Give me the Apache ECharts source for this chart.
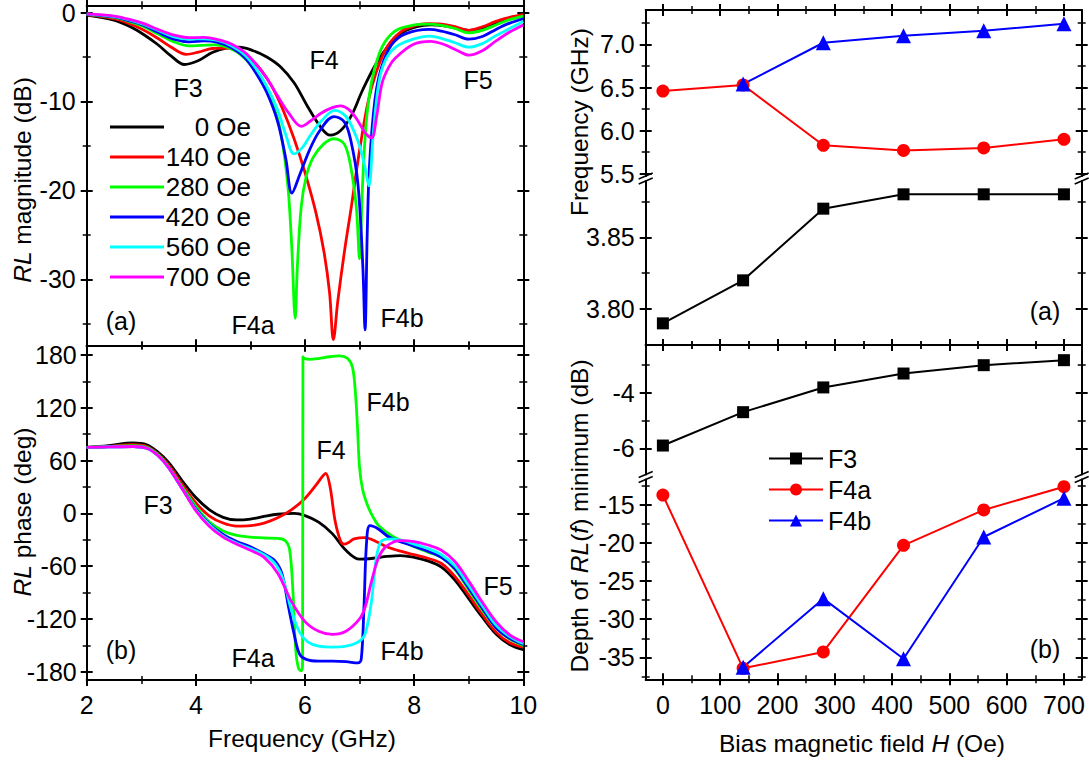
<!DOCTYPE html>
<html><head><meta charset="utf-8">
<script src="https://cdn.jsdelivr.net/npm/echarts@6.0.0/dist/echarts.min.js"></script>
<style>html,body{margin:0;padding:0;background:#fff}#c{width:1089px;height:762px}</style>
</head><body><div id="c"></div><script>
// ---------- data ----------
const fieldNames = ['0 Oe', '140 Oe', '280 Oe', '420 Oe', '560 Oe', '700 Oe'];
const magBlack = [[2,-0.3],[2.5,-0.85],[2.8,-1.6],[3.05,-2.5],[3.3,-3.6],[3.55,-4.9],[3.79,-5.85],[4.05,-5.4],[4.3,-4.5],[4.55,-4.0],[4.8,-3.9],[5.05,-4.3],[5.3,-5.0],[5.55,-6.1],[5.8,-7.9],[6.05,-10.6],[6.3,-13.0],[6.46,-13.8],[6.65,-13.3],[6.85,-11.6],[7.05,-8.8],[7.3,-5.8],[7.55,-3.6],[7.8,-2.2],[8.05,-1.6],[8.3,-1.4],[8.55,-1.5],[8.8,-1.8],[9.0,-2.0],[9.25,-1.75],[9.5,-1.15],[9.75,-0.65],[10,-0.35]];
const magRed = [[2,-0.25],[2.5,-0.7],[2.8,-1.3],[3.05,-2.0],[3.3,-2.9],[3.55,-3.9],[3.82,-4.7],[4.05,-4.45],[4.3,-4.05],[4.55,-4.0],[4.8,-4.4],[5.0,-5.2],[5.2,-6.5],[5.4,-8.4],[5.6,-11.0],[5.8,-14.2],[6.0,-18.0],[6.2,-22.5],[6.35,-27.0],[6.45,-31.5],[6.52,-36.8],[6.6,-32.5],[6.72,-27.0],[6.85,-21.8],[7.0,-15.5],[7.15,-10.2],[7.3,-6.8],[7.5,-3.9],[7.75,-2.2],[8.0,-1.5],[8.25,-1.25],[8.5,-1.3],[8.75,-1.6],[9.0,-2.0],[9.25,-1.6],[9.5,-1.0],[9.75,-0.55],[10,-0.25]];
const magGreen = [[2,-0.2],[2.5,-0.55],[2.8,-1.05],[3.05,-1.6],[3.3,-2.4],[3.6,-3.3],[3.87,-3.75],[4.1,-3.7],[4.35,-3.65],[4.6,-3.95],[4.85,-4.9],[5.1,-6.7],[5.3,-8.8],[5.5,-12.0],[5.62,-16.0],[5.7,-20.5],[5.76,-26.7],[5.82,-34.4],[5.86,-28.6],[5.93,-21.9],[6.02,-18.5],[6.15,-16.3],[6.34,-14.8],[6.53,-14.2],[6.72,-14.8],[6.84,-17.4],[6.94,-21.9],[7.0,-27.7],[7.05,-20.0],[7.12,-12.5],[7.22,-7.8],[7.35,-4.8],[7.5,-3.0],[7.7,-1.9],[8.0,-1.4],[8.25,-1.3],[8.5,-1.45],[8.75,-1.8],[9.0,-2.3],[9.25,-2.0],[9.5,-1.4],[9.75,-0.8],[10,-0.4]];
const magBlue = [[2,-0.2],[2.5,-0.5],[2.8,-0.95],[3.05,-1.45],[3.3,-2.2],[3.6,-3.0],[3.88,-3.3],[4.15,-3.2],[4.4,-3.35],[4.65,-3.95],[4.9,-5.1],[5.1,-6.8],[5.3,-9.0],[5.5,-12.3],[5.65,-16.5],[5.76,-20.3],[5.9,-18.3],[6.08,-15.5],[6.27,-13.3],[6.53,-11.7],[6.72,-12.3],[6.84,-14.4],[6.97,-19.3],[7.06,-28.6],[7.1,-35.7],[7.14,-24.9],[7.18,-17.4],[7.28,-9.9],[7.4,-6.2],[7.59,-3.6],[7.84,-2.4],[8.28,-1.9],[8.5,-2.1],[8.75,-2.5],[9.0,-3.0],[9.25,-2.7],[9.5,-1.9],[9.75,-1.2],[10,-0.7]];
const magCyan = [[2,-0.15],[2.5,-0.45],[2.8,-0.85],[3.05,-1.35],[3.3,-2.0],[3.6,-2.75],[3.88,-3.0],[4.15,-2.95],[4.4,-3.15],[4.65,-3.75],[4.9,-4.8],[5.1,-6.3],[5.3,-8.3],[5.5,-11.0],[5.65,-13.8],[5.8,-15.9],[5.95,-15.2],[6.1,-13.8],[6.3,-12.2],[6.55,-11.0],[6.75,-11.7],[6.9,-13.4],[7.0,-15.0],[7.1,-17.4],[7.17,-19.5],[7.25,-13.7],[7.35,-8.0],[7.47,-5.4],[7.66,-3.9],[7.98,-3.0],[8.29,-2.65],[8.5,-2.9],[8.75,-3.4],[9.0,-3.9],[9.25,-3.5],[9.5,-2.6],[9.75,-1.8],[10,-1.0]];
const magMagenta = [[2,-0.15],[2.5,-0.4],[2.8,-0.8],[3.05,-1.25],[3.3,-1.9],[3.6,-2.55],[3.88,-2.83],[4.15,-2.8],[4.4,-3.05],[4.65,-3.55],[4.9,-4.5],[5.1,-5.8],[5.3,-7.4],[5.5,-9.4],[5.7,-11.3],[5.93,-12.8],[6.1,-12.2],[6.3,-11.3],[6.5,-10.7],[6.65,-10.5],[6.8,-10.9],[6.95,-12.0],[7.1,-13.5],[7.22,-14.1],[7.31,-11.8],[7.41,-8.0],[7.53,-6.2],[7.66,-5.1],[7.98,-3.6],[8.3,-3.25],[8.55,-3.6],[8.8,-4.3],[9.0,-4.8],[9.25,-4.3],[9.5,-3.2],[9.75,-2.2],[10,-1.4]];

const phBlack = [[2,75],[2.4,77],[2.85,80],[3.1,78],[3.3,70],[3.5,58],[3.75,37],[4.0,18],[4.25,4],[4.5,-4.5],[4.75,-7.5],[5.0,-6.5],[5.25,-3.5],[5.5,-1],[5.8,0],[6.0,-2.5],[6.25,-10],[6.5,-23],[6.75,-42],[7.0,-52],[7.25,-51],[7.5,-49],[7.75,-48],[8.0,-50],[8.25,-54],[8.5,-61],[8.75,-76],[9.0,-97],[9.25,-118],[9.5,-137],[9.75,-149],[10,-155]];
const phRed = [[2,75],[2.4,76],[2.85,78],[3.1,76],[3.3,68],[3.5,55],[3.75,33],[4.0,12],[4.25,-3],[4.5,-11],[4.75,-14.5],[5.0,-14],[5.25,-11],[5.5,-5],[5.75,4],[6.0,17],[6.2,32],[6.32,42],[6.38,45.5],[6.46,30],[6.55,-8],[6.65,-31],[6.72,-35],[6.8,-33],[6.9,-29],[7.1,-27.5],[7.3,-32],[7.5,-38],[7.75,-43],[8.0,-47],[8.25,-51],[8.5,-57],[8.75,-72],[9.0,-93],[9.25,-115],[9.5,-135],[9.75,-147],[10,-152]];
const phGreen = [[2,75],[2.4,76],[2.85,77],[3.1,75],[3.3,67],[3.5,53],[3.75,30],[4.0,8],[4.25,-10],[4.5,-20],[4.75,-25],[5.0,-27],[5.25,-28],[5.5,-28.5],[5.64,-31],[5.72,-42],[5.78,-90],[5.83,-155],[5.88,-176],[5.93,-179],[5.955,-172],[5.962,178],[5.99,176],[6.08,175],[6.25,176],[6.45,178],[6.62,179],[6.78,176],[6.87,166],[6.92,140],[6.96,100],[7.0,52],[7.06,26],[7.16,7],[7.25,-4.5],[7.35,-14],[7.6,-26],[7.8,-32],[8.0,-38],[8.25,-44],[8.5,-50],[8.75,-64],[9.0,-87],[9.25,-110],[9.5,-130],[9.75,-143],[10,-150]];
const phBlue = [[2,75],[2.4,75.5],[2.85,76],[3.1,74],[3.3,66],[3.5,52],[3.75,28],[4.0,5],[4.25,-12],[4.5,-24],[4.75,-32],[5.0,-38],[5.25,-46],[5.45,-54],[5.58,-69],[5.7,-107],[5.8,-137],[5.9,-160],[6.02,-166],[6.25,-168],[6.5,-168],[6.75,-168.5],[6.97,-170],[7.03,-166],[7.08,-107],[7.13,-31],[7.19,-14],[7.35,-18],[7.54,-27],[7.98,-37],[8.25,-43],[8.5,-50],[8.75,-63],[9.0,-85],[9.25,-108],[9.5,-130],[9.75,-142],[10,-149]];
const phCyan = [[2,75],[2.4,75.5],[2.85,76],[3.1,74],[3.3,66],[3.5,52],[3.75,28],[4.0,4],[4.25,-13],[4.5,-26],[4.75,-34],[5.0,-40],[5.25,-47],[5.45,-57],[5.6,-75],[5.75,-110],[5.9,-135],[6.05,-146],[6.25,-151],[6.5,-152],[6.75,-151],[6.95,-147],[7.08,-140],[7.15,-125],[7.22,-99],[7.27,-70],[7.32,-46],[7.41,-31],[7.6,-29],[7.8,-31],[8.0,-35],[8.25,-40],[8.5,-47],[8.75,-60],[9.0,-82],[9.25,-105],[9.5,-127],[9.75,-140],[10,-148]];
const phMagenta = [[2,75],[2.4,75.5],[2.85,76],[3.1,74],[3.3,66],[3.5,52],[3.75,28],[4.0,3],[4.25,-15],[4.5,-27],[4.75,-35],[5.0,-42],[5.25,-50],[5.5,-68],[5.75,-100],[6.0,-123],[6.25,-134],[6.5,-137.5],[6.75,-134],[7.0,-120],[7.1,-107],[7.22,-77],[7.35,-50],[7.5,-37],[7.75,-31],[8.0,-32],[8.25,-36],[8.5,-42],[8.75,-55],[9.0,-77],[9.25,-101],[9.5,-123],[9.75,-138],[10,-146]];

const biasH = [0, 140, 280, 420, 560, 700];
const freqF3 = [3.79, 3.82, 3.87, 3.88, 3.88, 3.88];
const freqF4a = [6.46, 6.53, 5.83, 5.77, 5.80, 5.90];
const freqF4b = [null, 6.54, 7.02, 7.10, 7.16, 7.24];
const depthF3 = [-5.9, -4.7, -3.81, -3.31, -3.01, -2.83];
const depthF4a = [-13.7, -36.45, -34.3, -20.3, -15.65, -12.6];
const depthF4b = [null, -36.3, -27.3, -35.2, -19.2, -14.1];

const freqTicks = [2, 4, 6, 8, 10], freqMinor = [3, 5, 7, 9];
const magTicks = [0, -10, -20, -30], magMinor = [-5, -15, -25, -35];
const phTicks = [-180, -120, -60, 0, 60, 120, 180], phMinor = [-150, -90, -30, 30, 90, 150];
const hTicks = [0, 100, 200, 300, 400, 500, 600, 700], hMinor = [50, 150, 250, 350, 450, 550, 650];
const fUpTicks = [5.5, 6.0, 6.5, 7.0], fUpMinor = [5.75, 6.25, 6.75, 7.25];
const fLoTicks = [3.80, 3.85], fLoMinor = [3.825, 3.875];
const dUpTicks = [-4, -6], dUpMinor = [-3, -5];
const dLoTicks = [-15, -20, -25, -30, -35], dLoMinor = [-12.5, -17.5, -22.5, -27.5, -32.5, -37.5];

// ---------- helpers ----------
const FONT = '"Liberation Sans", Arial, sans-serif';
const TICK_FS = 25, TITLE_FS = 24.5, NOTE_FS = 25;
const xAxes = [], yAxes = [];
function addSide(list, grid, pos, min, max, majors, minors, o) {
  o = o || {};
  const base = {type: 'value', gridIndex: grid, position: pos, min: min, max: max, splitLine: {show: false}, silent: true};
  const idx = list.length;
  list.push(Object.assign({}, base, {
    axisLine: {show: true, onZero: false, lineStyle: {color: '#000', width: 2}},
    axisTick: {show: false},
    axisLabel: o.labels ? {show: true, customValues: majors, formatter: o.fmt, color: '#000', fontSize: TICK_FS, fontFamily: FONT, margin: o.margin} : {show: false}
  }));
  list.push(Object.assign({}, base, {offset: 6, axisLine: {show: false, onZero: false},
    axisTick: {show: true, inside: true, length: 12, customValues: majors, lineStyle: {color: '#000', width: 2}}, axisLabel: {show: false}}));
  if (minors && minors.length) list.push(Object.assign({}, base, {offset: 4, axisLine: {show: false, onZero: false},
    axisTick: {show: true, inside: true, length: 8, customValues: minors, lineStyle: {color: '#000', width: 1.5}}, axisLabel: {show: false}}));
  return idx;
}
const f1 = v => v.toFixed(1), f2 = v => v.toFixed(2);

// grids
const grids = [
  {left: 86.7, top: 5, width: 436.6, height: 340.5},
  {left: 86.7, top: 345.5, width: 436.6, height: 334.5},
  {left: 645.7, top: 10, width: 436, height: 166},
  {left: 645.7, top: 181, width: 436, height: 164},
  {left: 645.7, top: 345, width: 436, height: 129.5},
  {left: 645.7, top: 479.5, width: 436, height: 199.8}
];
const HMIN = -30, HMAX = 731;
const xLT = addSide(xAxes, 0, 'bottom', 2, 10, freqTicks, freqMinor);
addSide(xAxes, 0, 'top', 2, 10, freqTicks, freqMinor);
const yLT = addSide(yAxes, 0, 'left', -37.45, 0.81, magTicks, magMinor, {labels: true, margin: 11});
addSide(yAxes, 0, 'right', -37.45, 0.81, magTicks, magMinor);
const xLB = addSide(xAxes, 1, 'bottom', 2, 10, freqTicks, freqMinor, {labels: true, margin: 12});
addSide(xAxes, 1, 'top', 2, 10, freqTicks, freqMinor);
const yLB = addSide(yAxes, 1, 'left', -189.4, 190.8, phTicks, phMinor, {labels: true, margin: 10});
addSide(yAxes, 1, 'right', -189.4, 190.8, phTicks, phMinor);
const xRU = addSide(xAxes, 2, 'top', HMIN, HMAX, hTicks, hMinor);
const yRU = addSide(yAxes, 2, 'left', 5.474, 7.40, fUpTicks, fUpMinor, {labels: true, margin: 11, fmt: f1});
addSide(yAxes, 2, 'right', 5.474, 7.40, fUpTicks, fUpMinor);
const xRL = addSide(xAxes, 3, 'bottom', HMIN, HMAX, hTicks, hMinor);
const yRL = addSide(yAxes, 3, 'left', 3.7749, 3.8893, fLoTicks, fLoMinor, {labels: true, margin: 11, fmt: f2});
addSide(yAxes, 3, 'right', 3.7749, 3.8893, fLoTicks, fLoMinor);
const xBU = addSide(xAxes, 4, 'top', HMIN, HMAX, hTicks, hMinor);
const yBU = addSide(yAxes, 4, 'left', -6.942, -2.284, dUpTicks, dUpMinor, {labels: true, margin: 11});
addSide(yAxes, 4, 'right', -6.942, -2.284, dUpTicks, dUpMinor);
const xBL = addSide(xAxes, 5, 'bottom', HMIN, HMAX, hTicks, hMinor, {labels: true, margin: 13});
const yBL = addSide(yAxes, 5, 'left', -37.89, -11.65, dLoTicks, dLoMinor, {labels: true, margin: 11});
addSide(yAxes, 5, 'right', -37.89, -11.65, dLoTicks, dLoMinor);

// series
const colors = ['#000000', '#ff0000', '#00ff00', '#0000ff', '#00ffff', '#ff00ff'];
const mags = [magBlack, magRed, magGreen, magBlue, magCyan, magMagenta];
const phs = [phBlack, phRed, phGreen, phBlue, phCyan, phMagenta];
const series = [];
mags.forEach((d, i) => series.push({type: 'line', name: fieldNames[i], xAxisIndex: xLT, yAxisIndex: yLT, data: d,
  showSymbol: false, symbol: 'none', smooth: 0.35, lineStyle: {color: colors[i], width: 2.8}, itemStyle: {color: colors[i]}, z: 3}));
phs.forEach((d, i) => series.push({type: 'line', name: fieldNames[i], xAxisIndex: xLB, yAxisIndex: yLB, data: d,
  showSymbol: false, symbol: 'none', smooth: 0.35, lineStyle: {color: colors[i], width: 2.8}, itemStyle: {color: colors[i]}, z: 3}));
const pair = (xs, ys) => xs.map((x, i) => [x, ys[i]]).filter(p => p[1] !== null);
function mk(name, xi, yi, data, color, sym, size) {
  return {type: 'line', name: name, xAxisIndex: xi, yAxisIndex: yi, data: data, symbol: sym, symbolSize: size, showSymbol: true,
    lineStyle: {color: color, width: 2}, itemStyle: {color: color}, z: 4};
}
series.push(mk('F3', xRL, yRL, pair(biasH, freqF3), '#000', 'rect', 12));
series.push(mk('F4a', xRU, yRU, pair(biasH, freqF4a), '#ff0000', 'circle', 13));
series.push(mk('F4b', xRU, yRU, pair(biasH, freqF4b), '#0000ff', 'triangle', 15));
series.push(mk('F3', xBU, yBU, pair(biasH, depthF3), '#000', 'rect', 12));
series.push(mk('F4a', xBL, yBL, pair(biasH, depthF4a), '#ff0000', 'circle', 13));
series.push(mk('F4b', xBL, yBL, pair(biasH, depthF4b), '#0000ff', 'triangle', 15));

// graphics
function txt(t, x, y, rot, fs) {
  fs = fs || NOTE_FS;
  return {type: 'text', x: x, y: y, rotation: rot || 0, z: 50, silent: true,
    style: {text: t, fill: '#000', fontSize: fs, fontFamily: FONT, align: 'center', verticalAlign: 'middle', textAlign: 'center', textVerticalAlign: 'middle',
      rich: {i: {fontStyle: 'italic', fontSize: fs, fontFamily: FONT, fill: '#000'}}}};
}
function brk(x, y) {
  return [
    {type: 'line', z: 60, silent: true, shape: {x1: x - 7, y1: y + 3, x2: x + 7, y2: y - 3}, style: {stroke: '#000', lineWidth: 1.5}},
    {type: 'line', z: 60, silent: true, shape: {x1: x - 7, y1: y + 8, x2: x + 7, y2: y + 2}, style: {stroke: '#000', lineWidth: 1.5}}
  ];
}
const R = Math.PI / 2;
const graphics = [
  txt('F3', 188, 88), txt('F4', 324, 60), txt('F5', 478, 80), txt('(a)', 121, 321), txt('F4a', 253, 325), txt('F4b', 402, 318),
  txt('F4b', 388, 402), txt('F4', 331, 450), txt('F3', 158, 505), txt('F5', 498, 586), txt('(b)', 121, 650), txt('F4a', 253, 658), txt('F4b', 402, 651),
  txt('(a)', 1045, 311), txt('(b)', 1045, 649),
  txt('{i|RL} magnitude (dB)', 22, 180, R, TITLE_FS), txt('{i|RL} phase (deg)', 22, 512, R, TITLE_FS), txt('Frequency (GHz)', 302, 738, 0, TITLE_FS),
  txt('Frequency (GHz)', 579, 122, R, TITLE_FS), txt('Depth of {i|RL}({i|f}) minimum (dB)', 579, 516, R, TITLE_FS), txt('Bias magnetic field {i|H} (Oe)', 862, 743, 0, TITLE_FS)
].concat(brk(645.7, 176), brk(1081.7, 176), brk(645.7, 474.5), brk(1081.7, 474.5));

const chart = echarts.init(document.getElementById('c'), null, {renderer: 'svg', width: 1089, height: 762});
chart.setOption({
  animation: false,
  backgroundColor: '#fff',
  grid: grids,
  xAxis: xAxes,
  yAxis: yAxes,
  legend: [
    {data: fieldNames, orient: 'vertical', left: 105, top: 109, itemWidth: 54, itemHeight: 3, itemGap: 4, icon: 'rect',
      formatter: n => '{a|' + n + '}', selectedMode: false,
      textStyle: {rich: {a: {width: 82, align: 'right', fontSize: 26, fontFamily: FONT, color: '#000'}}}},
    {data: ['F3', 'F4a', 'F4b'], orient: 'vertical', left: 763, top: 441, itemWidth: 54, itemHeight: 15, itemGap: 6, selectedMode: false,
      textStyle: {fontSize: 25, fontFamily: FONT, color: '#000'}}
  ],
  series: series,
  graphic: graphics
});
</script></body></html>
